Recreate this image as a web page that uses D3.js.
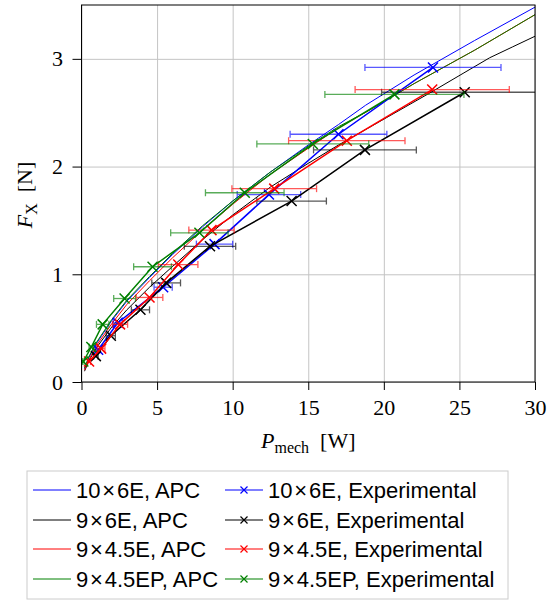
<!DOCTYPE html>
<html>
<head>
<meta charset="utf-8">
<script src="https://cdn.jsdelivr.net/npm/d3@7"></script>
<style>
  body { margin: 0; background: #fff; }
  svg { display: block; }
  .tick text { font-family: 'Liberation Serif', serif; font-size: 22px; fill: #000; }
</style>
</head>
<body>
<svg id="chart" width="548" height="602"></svg>
<script>
// series names and colours
const names = ['10\u200A×\u200A6E', '9\u200A×\u200A6E', '9\u200A×\u200A4.5E', '9\u200A×\u200A4.5EP'];
const colors = ['#0000ff', '#000000', '#ff0000', '#008000'];

// APC curves (P in W, F in N)
const apc10x6E_P = [0.2, 0.5, 1, 2, 3, 4.5, 6, 8, 10, 12.5, 15, 17, 18.8, 22, 26, 30];
const apc10x6E_F = [0.12, 0.23, 0.36, 0.57, 0.75, 0.97, 1.18, 1.44, 1.68, 1.95, 2.2, 2.39, 2.57, 2.85, 3.17, 3.48];
const apc9x6E_P = [0.2, 0.5, 1, 2, 3, 4.5, 6, 8, 10, 12.5, 15, 17, 19, 21, 23, 25.3, 27, 28.5, 30];
const apc9x6E_F = [0.1, 0.2, 0.32, 0.51, 0.67, 0.88, 1.07, 1.32, 1.55, 1.81, 2.03, 2.2, 2.36, 2.52, 2.68, 2.87, 3.01, 3.11, 3.21];
const apc9x45E_P = [0.2, 0.5, 1, 2, 3, 4.5, 6, 8, 10, 12.5, 15, 17, 19, 22, 26, 30];
const apc9x45E_F = [0.11, 0.21, 0.34, 0.54, 0.72, 0.94, 1.15, 1.41, 1.65, 1.93, 2.17, 2.36, 2.52, 2.77, 3.08, 3.41];
const apc9x45EP_P = [0.2, 0.5, 1, 2, 3, 4.5, 6, 8, 10, 12.5, 15, 17, 19, 22, 26, 30];
const apc9x45EP_F = [0.13, 0.24, 0.37, 0.58, 0.76, 0.98, 1.19, 1.45, 1.68, 1.95, 2.19, 2.37, 2.52, 2.77, 3.08, 3.41];

// experimental points with horizontal error (half width, W)
const exp10x6E_P = [1.1, 2.4, 5.4, 8.8, 12.4, 17.0, 23.25];
const exp10x6E_F = [0.30, 0.55, 0.88, 1.28, 1.74, 2.30, 2.92];
const exp10x6E_E = [0.15, 0.3, 0.6, 1.2, 2.1, 3.2, 4.5];
const exp9x6E_P = [0.95, 1.94, 3.9, 5.6, 8.5, 13.9, 18.75, 25.35];
const exp9x6E_F = [0.24, 0.43, 0.67, 0.92, 1.26, 1.68, 2.155, 2.69];
const exp9x6E_E = [0.15, 0.3, 0.6, 0.95, 1.7, 2.3, 3.4, 5.5];
const exp9x45E_P = [0.5, 1.3, 2.55, 4.5, 6.4, 8.6, 12.75, 17.55, 23.2];
const exp9x45E_F = [0.19, 0.31, 0.535, 0.785, 1.09, 1.41, 1.795, 2.24, 2.715];
const exp9x45E_E = [0.1, 0.25, 0.5, 0.88, 1.3, 1.5, 2.8, 3.85, 5.1];
const exp9x45EP_P = [0.12, 0.65, 1.4, 2.85, 4.7, 7.8, 10.8, 15.3, 20.7];
const exp9x45EP_F = [0.19, 0.325, 0.535, 0.775, 1.07, 1.385, 1.757, 2.21, 2.67];
const exp9x45EP_E = [0.05, 0.15, 0.41, 0.72, 1.25, 1.9, 2.6, 3.7, 4.6];

const xTicks = [0, 5, 10, 15, 20, 25, 30];
const yTicks = [0, 1, 2, 3];

const apc = [
  [apc10x6E_P, apc10x6E_F], [apc9x6E_P, apc9x6E_F],
  [apc9x45E_P, apc9x45E_F], [apc9x45EP_P, apc9x45EP_F]
].map(([p, f]) => p.map((v, i) => ({p: v, f: f[i]})));
const exp = [
  [exp10x6E_P, exp10x6E_F, exp10x6E_E], [exp9x6E_P, exp9x6E_F, exp9x6E_E],
  [exp9x45E_P, exp9x45E_F, exp9x45E_E], [exp9x45EP_P, exp9x45EP_F, exp9x45EP_E]
].map(([p, f, e]) => p.map((v, i) => ({p: v, f: f[i], e: e[i]})));

const svg = d3.select('#chart');
const pLeft = 81.5, pRight = 535, pTop = 5, pBottom = 382;
const x = d3.scaleLinear().domain([0, 30]).range([pLeft, pRight]);
const y = d3.scaleLinear().domain([0, 3.5]).range([pBottom, pTop]);

// grid
svg.append('g')
    .attr('transform', `translate(0,${pBottom})`)
    .call(d3.axisBottom(x).tickValues(xTicks).tickSize(-(pBottom - pTop)).tickFormat(''))
    .call(g => g.select('.domain').remove())
    .selectAll('line').attr('stroke', '#c4c4c4').attr('stroke-width', 1);
svg.append('g')
    .attr('transform', `translate(${pLeft},0)`)
    .call(d3.axisLeft(y).tickValues(yTicks).tickSize(-(pRight - pLeft)).tickFormat(''))
    .call(g => g.select('.domain').remove())
    .selectAll('line').attr('stroke', '#c4c4c4').attr('stroke-width', 1);

svg.append('defs').append('clipPath').attr('id', 'clip')
  .append('rect').attr('x', pLeft).attr('y', pTop).attr('width', pRight - pLeft).attr('height', pBottom - pTop);

const plot = svg.append('g').attr('clip-path', 'url(#clip)');
const line = d3.line().x(d => x(d.p)).y(d => y(d.f));

apc.forEach((pts, i) => {
  plot.append('path').datum(pts)
      .attr('d', line).attr('fill', 'none')
      .attr('stroke', colors[i]).attr('stroke-width', 1);
});

const cross = 5;
exp.forEach((pts, i) => {
  const g = plot.append('g');
  // error bars
  const eb = g.append('g').attr('stroke', colors[i]).attr('stroke-width', 1.3).attr('opacity', 0.65);
  pts.forEach(d => {
    const yy = y(d.f);
    eb.append('line').attr('x1', x(d.p - d.e)).attr('x2', x(d.p + d.e)).attr('y1', yy).attr('y2', yy);
    eb.append('line').attr('x1', x(d.p - d.e)).attr('x2', x(d.p - d.e)).attr('y1', yy - 3.5).attr('y2', yy + 3.5);
    eb.append('line').attr('x1', x(d.p + d.e)).attr('x2', x(d.p + d.e)).attr('y1', yy - 3.5).attr('y2', yy + 3.5);
  });
  g.append('path').datum(pts)
      .attr('d', line).attr('fill', 'none')
      .attr('stroke', colors[i]).attr('stroke-width', 1.5);
  g.selectAll('path.mk').data(pts).enter().append('path')
      .attr('class', 'mk')
      .attr('d', d => {
        const cx = x(d.p), cy = y(d.f);
        return `M${cx - cross},${cy - cross}L${cx + cross},${cy + cross}M${cx - cross},${cy + cross}L${cx + cross},${cy - cross}`;
      })
      .attr('stroke', colors[i]).attr('stroke-width', 1.5);
});

// frame and axes
svg.append('rect').attr('x', pLeft).attr('y', pTop).attr('width', pRight - pLeft).attr('height', pBottom - pTop)
    .attr('fill', 'none').attr('stroke', '#000').attr('stroke-width', 1);
svg.append('g')
    .attr('transform', `translate(0,${pBottom})`)
    .call(d3.axisBottom(x).tickValues(xTicks).tickSize(8).tickPadding(9.5).tickFormat(d3.format('d')))
    .call(g => g.select('.domain').remove())
    .call(g => g.selectAll('line').attr('stroke', '#000'));
svg.append('g')
    .attr('transform', `translate(${pLeft},0)`)
    .call(d3.axisLeft(y).tickValues(yTicks).tickSize(9).tickPadding(9.5).tickFormat(d3.format('d')))
    .call(g => g.select('.domain').remove())
    .call(g => g.selectAll('line').attr('stroke', '#000'));

// axis titles
const xl = svg.append('text').attr('x', (pLeft + pRight) / 2).attr('y', 448)
    .attr('text-anchor', 'middle').attr('font-family', 'Liberation Serif, serif').attr('font-size', 22);
xl.append('tspan').attr('font-style', 'italic').text('P');
xl.append('tspan').attr('font-size', 16).attr('dy', 5).text('mech');
xl.append('tspan').attr('dy', -5).text('\u2002[W]');

const yl = svg.append('text').attr('transform', 'translate(32,195) rotate(-90)')
    .attr('text-anchor', 'middle').attr('font-family', 'Liberation Serif, serif').attr('font-size', 22);
yl.append('tspan').attr('font-style', 'italic').text('F');
yl.append('tspan').attr('font-size', 16).attr('dy', 5).text('X');
yl.append('tspan').attr('dy', -5).text('\u2002[N]');

// legend
const lg = svg.append('g');
lg.append('rect').attr('x', 27).attr('y', 471).attr('width', 481).attr('height', 128)
    .attr('fill', '#fff').attr('stroke', '#cccccc').attr('stroke-width', 1);
const rowY = [490, 520, 549, 579];
names.forEach((n, i) => {
  const yy = rowY[i];
  lg.append('line').attr('x1', 33).attr('x2', 71).attr('y1', yy).attr('y2', yy)
      .attr('stroke', colors[i]).attr('stroke-width', 1);
  lg.append('text').attr('x', 76).attr('y', yy + 8)
      .attr('font-family', 'Liberation Sans, Arial, sans-serif').attr('font-size', 22).text(n + ', APC');
  lg.append('line').attr('x1', 225).attr('x2', 263).attr('y1', yy).attr('y2', yy)
      .attr('stroke', colors[i]).attr('stroke-width', 1.2);
  const c = 3.5;
  lg.append('path').attr('d', `M${244 - c},${yy - c}L${244 + c},${yy + c}M${244 - c},${yy + c}L${244 + c},${yy - c}`)
      .attr('stroke', colors[i]).attr('stroke-width', 1.2);
  lg.append('text').attr('x', 268).attr('y', yy + 8)
      .attr('font-family', 'Liberation Sans, Arial, sans-serif').attr('font-size', 22).text(n + ', Experimental');
});
</script>
</body>
</html>
